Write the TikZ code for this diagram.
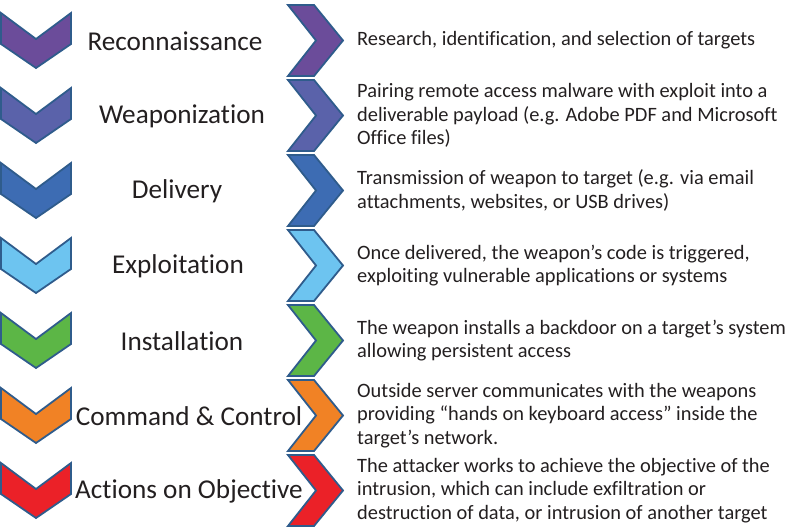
\documentclass[tikz,border=0pt]{standalone}
\usepackage{fontspec}
\setmainfont[Ligatures=NoCommon]{Carlito}

\definecolor{edge}{HTML}{2F5C8C}
\definecolor{ink}{HTML}{231F20}
\definecolor{recon}{HTML}{6B4C9A}
\definecolor{weapon}{HTML}{5A62AA}
\definecolor{deliv}{HTML}{3D6CB3}
\definecolor{exploit}{HTML}{6DC4F0}
\definecolor{install}{HTML}{5CB646}
\definecolor{cnc}{HTML}{F18225}
\definecolor{action}{HTML}{EB2128}

\begin{document}
\begin{tikzpicture}[x=1pt,y=-1pt,
                    chevron/.style={draw=edge,line width=1.8pt,line join=miter},
                    stage/.style={font=\fontsize{27.2}{32}\selectfont,text=ink,inner sep=0pt},
                    info/.style={font=\fontsize{20.4}{23.5}\selectfont,text=ink,align=left,anchor=west,inner sep=0pt}]

  \useasboundingbox (0,0) rectangle (795,528);

  \foreach \col/\name/\lx/\desc [count=\i from 0] in {
      recon/Reconnaissance/175/{Research, identification, and selection of targets},
      weapon/Weaponization/182/{Pairing remote access malware with exploit into a\\deliverable payload (e.g. Adobe PDF and Microsoft\\Office files)},
      deliv/Delivery/177/{Transmission of weapon to target (e.g. via email\\attachments, websites, or USB drives)},
      exploit/Exploitation/178/{Once delivered, the weapon’s code is triggered,\\exploiting vulnerable applications or systems},
      install/Installation/182/{The weapon installs a backdoor on a target’s system\\allowing persistent access},
      cnc/Command \& Control/189/{Outside server communicates with the weapons\\providing “hands on keyboard access” inside the\\target’s network.},
      action/Actions on Objective/189/{The attacker works to achieve the objective of the\\intrusion, which can include exfiltration or\\destruction of data, or intrusion of another target}}
  {
    \pgfmathsetmacro{\yc}{40.5+75*\i}
    % down chevron
    \draw[chevron,fill=\col] (1,\yc-27.5) -- ++(35,26) -- ++(35,-26) -- ++(0,31)
        -- ++(-35,24) -- ++(-35,-24) -- cycle;
    % right chevron
    \draw[chevron,fill=\col] (288,\yc-35.5) -- ++(26,0) -- ++(29,35.5) -- ++(-29,35.5)
        -- ++(-26,0) -- ++(28,-35.5) -- cycle;
    \node[stage] (stage\i) at (\lx,\yc+1) {\name};
    \node[info] (info\i) at (357,\yc) {\desc};
  }
\end{tikzpicture}
\end{document}
